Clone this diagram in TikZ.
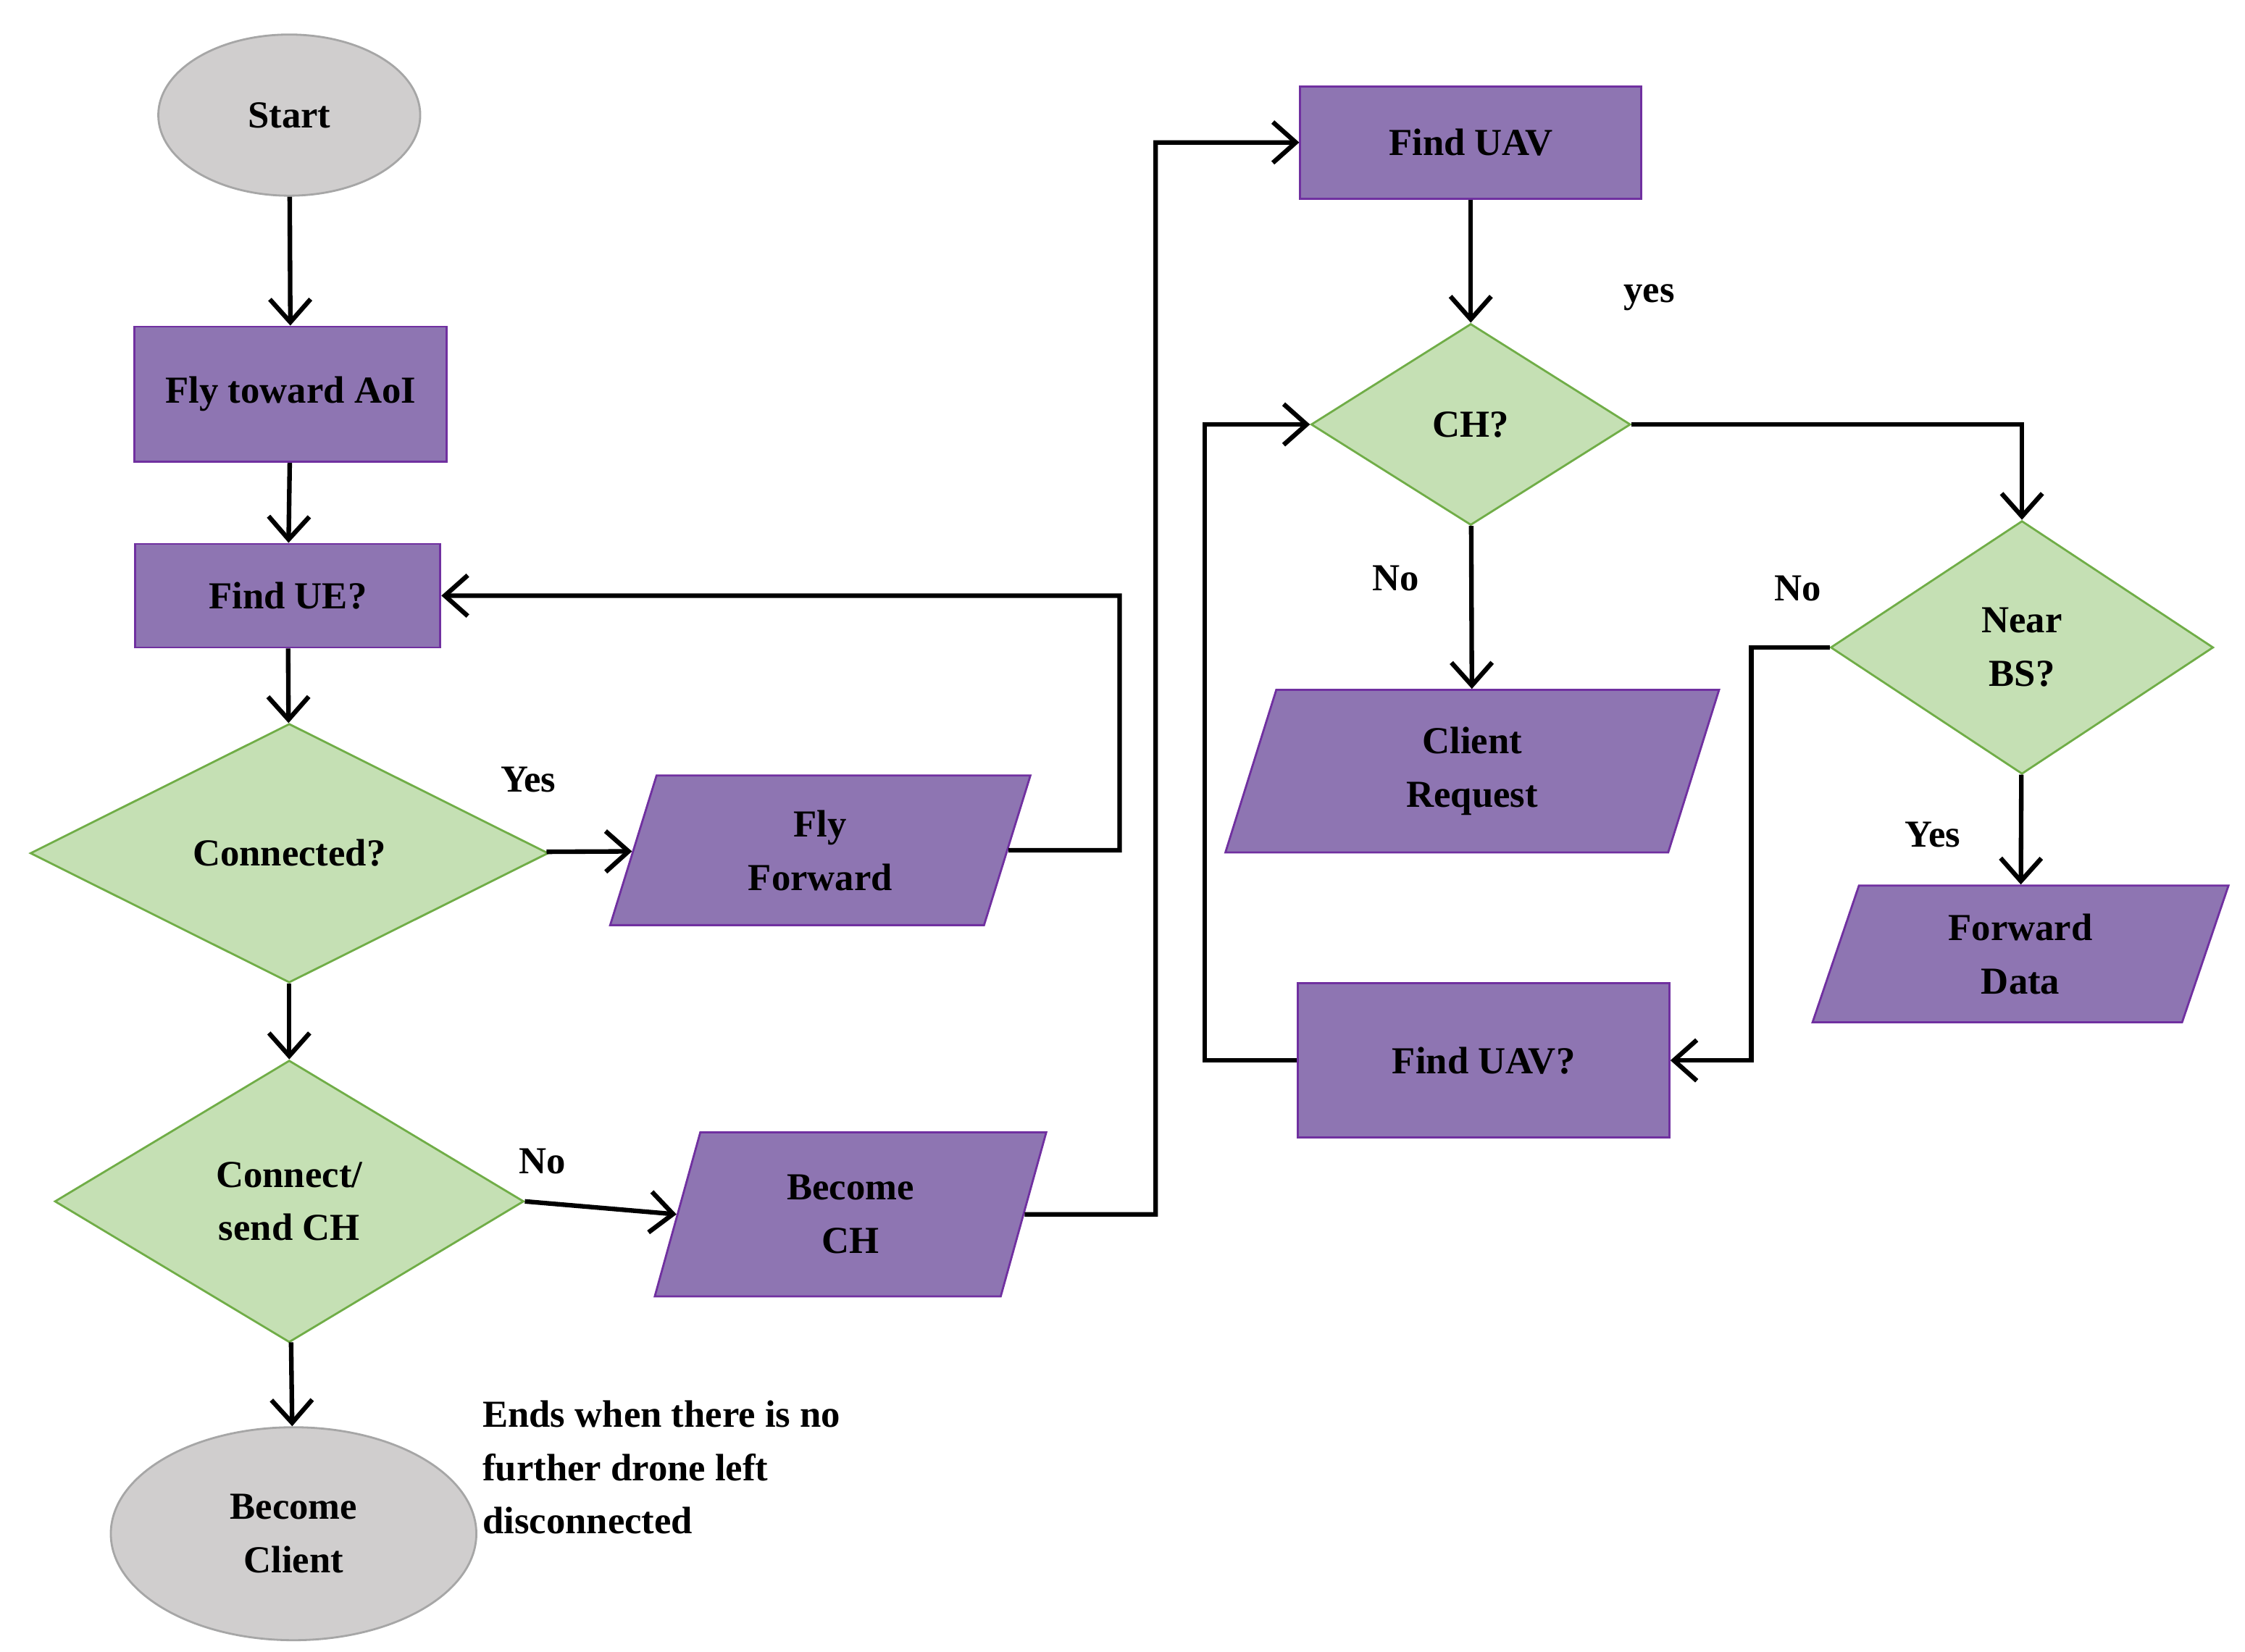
\documentclass[tikz,border=0pt]{standalone}
\usepackage{fontspec}
\setmainfont{Liberation Serif}
\usetikzlibrary{shapes.geometric, arrows.meta}
\definecolor{boxfill}{HTML}{8E75B2}
\definecolor{boxline}{HTML}{7030A0}
\definecolor{decfill}{HTML}{C5E0B4}
\definecolor{decline}{HTML}{70AD47}
\definecolor{endfill}{HTML}{D0CECE}
\definecolor{endline}{HTML}{A6A6A6}
\tikzset{
	sz/.style 2 args = {minimum width = #1*0.01987cm, minimum height = #2*0.01987cm},
	base/.style = {font = \bfseries\fontsize{15}{21}\selectfont, align = center, inner sep = 0pt},
	process/.style = {base, rectangle, draw = boxline, fill = boxfill, thick},
	io/.style = {base, trapezium, trapezium left angle = 60, trapezium right angle = 120, trapezium stretches body, draw = boxline, fill = boxfill, thick},
	decision/.style = {base, diamond, draw = decline, fill = decfill, thick},
	terminal/.style = {base, ellipse, draw = endline, fill = endfill, thick},
	flow/.style = {draw, line width = 1.8pt, -{Straight Barb[length = 9pt, width = 16pt, line width = 1.8pt]}},
	lbl/.style = {font = \bfseries\fontsize{15}{18}\selectfont}
}
\begin{document}
\begin{tikzpicture}[x = 0.01987cm, y = -0.01987cm]
	\useasboundingbox (0, 0) rectangle (1560, 1148);
	% left column
	\node [terminal, sz = {182}{112}] (start) at (201, 80) {Start};
	\node [process, sz = {217}{94}] (fly) at (202, 274) {Fly toward AoI};
	\node [process, sz = {212}{72}] (findue) at (200, 414) {Find UE?};
	\node [decision, sz = {360}{180}] (conn) at (201, 593) {Connected?};
	\node [io, sz = {292}{104}] (flyfwd) at (570, 591) {Fly\\Forward};
	\node [decision, sz = {326}{196}] (send) at (201, 835) {Connect/\\send CH};
	\node [io, sz = {272}{114}] (bech) at (591, 844) {Become\\CH};
	\node [terminal, sz = {254}{148}] (client) at (204, 1066) {Become\\Client};
	\node [anchor = north west, align = left, font = \bfseries\fontsize{15}{21}\selectfont, inner sep = 0pt] (note) at (335, 973) {Ends when there is no\\further drone left\\disconnected};
	% right part
	\node [process, sz = {237}{78}] (uav) at (1022, 99) {Find UAV};
	\node [decision, sz = {222}{140}] (ch) at (1022, 295) {CH?};
	\node [io, sz = {343}{113}] (req) at (1023, 536) {Client\\Request};
	\node [decision, sz = {266}{176}] (near) at (1405, 450) {Near\\BS?};
	\node [io, sz = {289}{95}] (fwd) at (1404, 663) {Forward\\Data};
	\node [process, sz = {258}{107}] (uavq) at (1031, 737) {Find UAV?};
	% labels
	\node [lbl] at (367, 542) {Yes};
	\node [lbl] at (377, 807) {No};
	\node [lbl] at (1146, 207) {yes};
	\node [lbl] at (970, 402) {No};
	\node [lbl] at (1249, 409) {No};
	\node [lbl] at (1343, 580) {Yes};
	% connectors
	\draw [flow] (start) -- (fly);
	\draw [flow] (fly) -- (findue);
	\draw [flow] (findue) -- (conn);
	\draw [flow] (conn) -- (flyfwd);
	\draw [flow] (flyfwd.east) -- (778, 591) |- (findue.east);
	\draw [flow] (conn) -- (send);
	\draw [flow] (send.east) -- (bech.west);
	\draw [flow] (send) -- (client);
	\draw [flow] (bech.east) -- (803, 844) |- (uav.west);
	\draw [flow] (uav) -- (ch);
	\draw [flow] (ch) -- (req);
	\draw [flow] (ch.east) -| (near.north);
	\draw [flow] (near.west) -- (1217, 450) |- (uavq.east);
	\draw [flow] (near) -- (fwd);
	\draw [flow] (uavq.west) -- (837, 737) |- (ch.west);
\end{tikzpicture}
\end{document}
